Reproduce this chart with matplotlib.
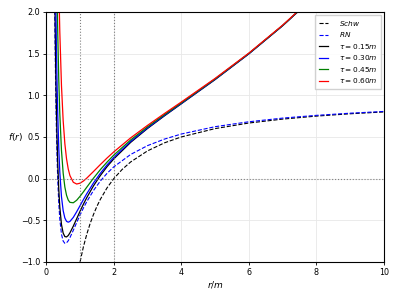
import matplotlib
matplotlib.use("Agg")
import matplotlib.pyplot as plt

# r/m sample points shared by the RN and tau curves
r = [0.24, 0.26, 0.28, 0.30, 0.32, 0.34, 0.37, 0.40, 0.45, 0.50, 0.55, 0.60,
     0.65, 0.70, 0.80, 0.90, 1.0, 1.1, 1.2, 1.4, 1.6, 1.8, 2.0, 2.5, 3.0,
     3.5, 4.0, 5.0, 6.0, 7.0, 8.0]

# Schwarzschild starts at r = m (f = -1 there)
r_schw = [1.0, 1.1, 1.2, 1.3, 1.4, 1.5, 1.6, 1.8, 2.0, 2.25, 2.5, 3.0, 3.5,
          4.0, 5.0, 6.0, 7.0, 8.0, 9.0, 10.0]
f_schw = [-1.0, -0.818, -0.667, -0.538, -0.429, -0.333, -0.25, -0.111, 0.0,
          0.111, 0.2, 0.333, 0.429, 0.5, 0.6, 0.667, 0.714, 0.75, 0.778, 0.8]

r_rn = r + [9.0, 10.0]
f_rn = [2.432, 1.629, 1.032, 0.583, 0.243, -0.017, -0.297, -0.484, -0.667,
        -0.75, -0.777, -0.771, -0.746, -0.709, -0.621, -0.528, -0.4375,
        -0.353, -0.276, -0.142, -0.030, 0.063, 0.141, 0.29, 0.396, 0.474,
        0.535, 0.623, 0.682, 0.726, 0.759, 0.785, 0.806]

f_t015 = [2.824, 1.963, 1.321, 0.835, 0.465, 0.181, -0.129, -0.340, -0.551,
          -0.654, -0.696, -0.700, -0.683, -0.652, -0.571, -0.482, -0.392,
          -0.307, -0.228, -0.086, 0.036, 0.143, 0.237, 0.435, 0.602, 0.753,
          0.898, 1.188, 1.497, 1.834, 2.206]
f_t030 = [3.996, 2.962, 2.182, 1.585, 1.124, 0.765, 0.364, 0.082, -0.218,
          -0.384, -0.473, -0.513, -0.523, -0.514, -0.466, -0.398, -0.325,
          -0.252, -0.181, -0.051, 0.063, 0.164, 0.254, 0.446, 0.609, 0.759,
          0.902, 1.191, 1.498, 1.835, 2.207]
f_t045 = [None, None, 3.617, 2.835, 2.223, 1.738, 1.186, 0.785, 0.338, 0.066,
          -0.101, -0.200, -0.257, -0.285, -0.290, -0.260, -0.212, -0.159,
          -0.103, 0.006, 0.107, 0.198, 0.282, 0.464, 0.622, 0.768, 0.909,
          1.196, 1.502, 1.837, 2.208]
f_t060 = [None, None, None, 4.585, 3.761, 3.100, 2.336, 1.769, 1.116, 0.696,
          0.420, 0.237, 0.116, 0.037, -0.044, -0.065, -0.055, -0.029, 0.006,
          0.086, 0.168, 0.247, 0.321, 0.489, 0.639, 0.781, 0.919, 1.202,
          1.506, 1.841, 2.211]

taus = ["0.15", "0.30", "0.45", "0.60"]
tau_curves = [f_t015, f_t030, f_t045, f_t060]
tau_colors = ["k", "b", "g", "r"]

fig = plt.figure(figsize=(3.99, 2.99), dpi=100)
ax = fig.add_axes([0.116, 0.124, 0.846, 0.836])

ax.plot(r_schw, f_schw, "k--", lw=0.8, label="$Schw$")
ax.plot(r_rn, f_rn, "b--", lw=0.8, label="$RN$")
for t, f, c in zip(taus, tau_curves, tau_colors):
    pts = [(x, y) for x, y in zip(r, f) if y is not None]
    ax.plot([p[0] for p in pts], [p[1] for p in pts], color=c, lw=0.9,
            label=r"$\tau = %s m$" % t)

ax.axhline(0, color="gray", ls=":", lw=0.8)
ax.axvline(1, color="gray", ls=":", lw=0.8)
ax.axvline(2, color="gray", ls=":", lw=0.8)

ax.set_xlim(0, 10)
ax.set_ylim(-1, 2)
ax.grid(True, color="#e8e8e8", lw=0.6)
ax.tick_params(labelsize=5.8, length=2.5, width=0.6, pad=2)
for s in ax.spines.values():
    s.set_linewidth(0.8)
ax.set_xlabel("$r/m$", fontsize=6.5)
ax.xaxis.set_label_coords(0.5, -0.07)
ax.set_ylabel("$f(r)$", fontsize=6.5, rotation=0, va="center", ha="center")
ax.yaxis.set_label_coords(-0.09, 0.5)
ax.legend(loc="upper right", fontsize=5.3, framealpha=0.9, fancybox=False,
          labelspacing=0.35, handlelength=1.3, handletextpad=1.4,
          borderpad=0.5, borderaxespad=0.4)

fig.savefig("out.png", dpi=100)
